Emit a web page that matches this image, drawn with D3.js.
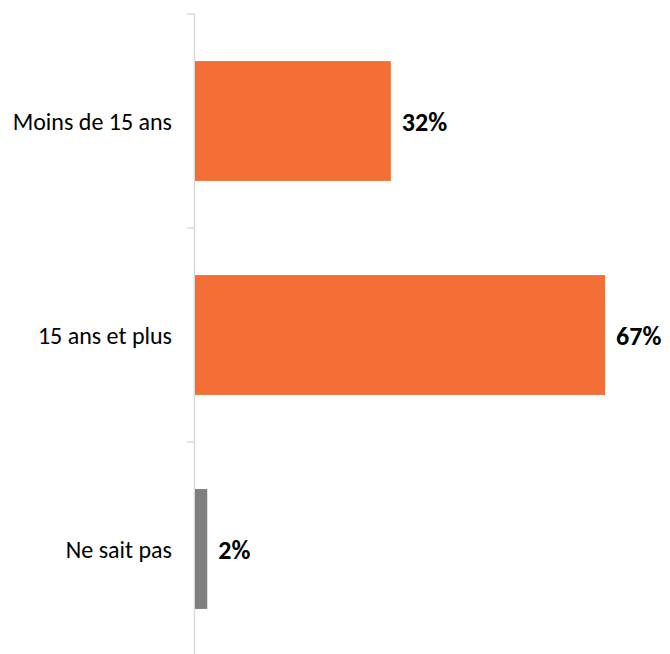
<!DOCTYPE html>
<html>
<head>
<meta charset="utf-8">
<script src="https://cdn.jsdelivr.net/npm/d3@7"></script>
<style>
body { margin: 0; background: #fff; }
text { font-family: Carlito, Lato, "Open Sans", sans-serif; }
</style>
</head>
<body>
<script>
var categories = ["Moins de 15 ans", "15 ans et plus", "Ne sait pas"]
var values = [32, 67, 2]
var colors = ["#F36F36", "#F36F36", "#7F7F7F"]

var width = 670
var height = 654

var svg = d3.select("body").append("svg")
    .attr("width", width)
    .attr("height", height)

var x_scale = d3.scaleLinear().domain([0, 100]).range([195, 807])

var y_scale = d3.scaleBand()
    .domain(categories)
    .range([14, 656])
    .paddingInner(0.44)
    .paddingOuter(0.22)

var step = y_scale.step()

// axis line + tick marks between categories
svg.append("line")
    .attr("x1", 194.5).attr("x2", 194.5)
    .attr("y1", 14).attr("y2", height)
    .attr("stroke", "#D9D9D9").attr("stroke-width", 1.5)

var tickPos = categories.map(c => y_scale(c) - step * 0.22)
tickPos.push(y_scale(categories[categories.length - 1]) - step * 0.22 + step)
svg.selectAll(".tick").data(tickPos).enter().append("line")
    .attr("x1", 187).attr("x2", 194.5)
    .attr("y1", d => d).attr("y2", d => d)
    .attr("stroke", "#D9D9D9").attr("stroke-width", 1.5)

svg.selectAll(".bar").data(values).enter().append("rect")
    .attr("x", x_scale(0))
    .attr("y", (d, i) => y_scale(categories[i]))
    .attr("width", d => x_scale(d) - x_scale(0))
    .attr("height", y_scale.bandwidth())
    .attr("fill", (d, i) => colors[i])

svg.selectAll(".cat").data(categories).enter().append("text")
    .attr("x", 172)
    .attr("y", d => y_scale(d) + y_scale.bandwidth() / 2)
    .attr("dy", "0.38em")
    .attr("text-anchor", "end")
    .attr("font-size", 24)
    .attr("fill", "#000")
    .text(d => d)

svg.selectAll(".val").data(values).enter().append("text")
    .attr("x", d => x_scale(d) + 11)
    .attr("y", (d, i) => y_scale(categories[i]) + y_scale.bandwidth() / 2)
    .attr("dy", "0.38em")
    .attr("font-size", 26)
    .attr("font-weight", "bold")
    .attr("fill", "#000")
    .text(d => d + "%")
</script>
</body>
</html>
